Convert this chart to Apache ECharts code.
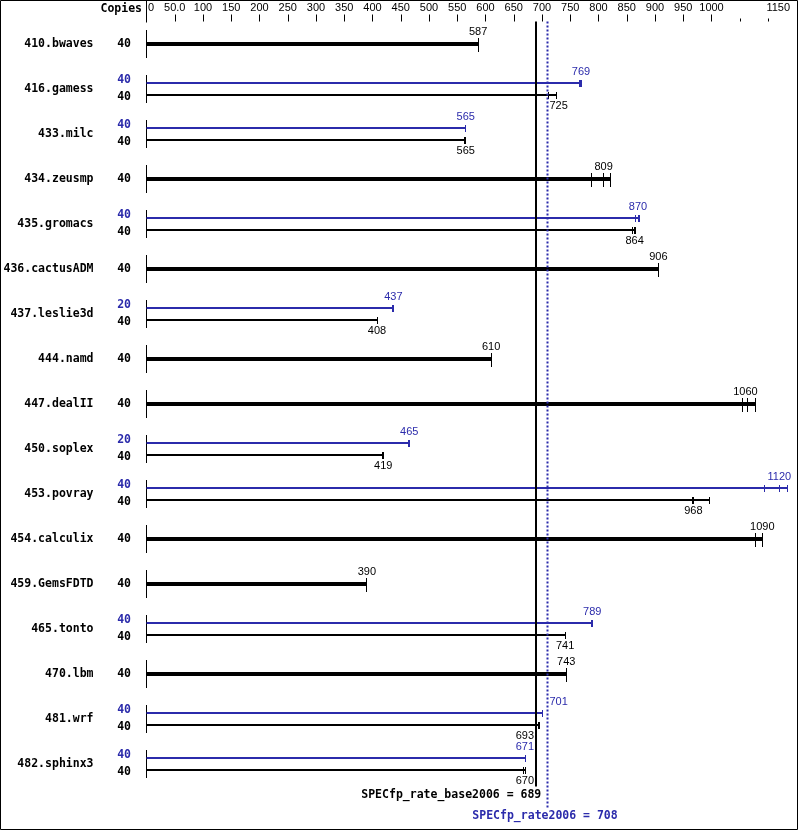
<!DOCTYPE html>
<html>
<head>
<meta charset="utf-8">
<script src="https://cdn.jsdelivr.net/npm/echarts@6/dist/echarts.min.js"></script>
<style>html,body{margin:0;padding:0;background:#fff}#c{width:799px;height:831px}</style>
</head>
<body>
<div id="c"></div>
<script>
const benchmarks = ['410.bwaves','416.gamess','433.milc','434.zeusmp','435.gromacs','436.cactusADM','437.leslie3d','444.namd','447.dealII','450.soplex','453.povray','454.calculix','459.GemsFDTD','465.tonto','470.lbm','481.wrf','482.sphinx3'];
const baseCopies = [40,40,40,40,40,40,40,40,40,40,40,40,40,40,40,40,40];
const peakCopies = [null,40,40,null,40,null,20,null,null,20,40,null,null,40,null,40,40];
const baseValues = [587,725,565,809,864,906,408,610,1060,419,968,1090,390,741,743,693,670];
const baseRuns = [[587],[712,725,726],[562,565],[787,809,822],[861,864,866],[906],[408],[610],[1054,1063,1078],[418,419],[966,968,997],[1078,1090,1091],[390],[741],[743],[690,693,695],[667,670,671]];
const peakValues = [null,769,565,null,870,null,437,null,null,465,1120,null,null,789,null,701,671];
const peakRuns = [null,[766,769,770],[565],null,[866,870,873],null,[435,437,438],null,null,[464,465],[1093,1120,1134],null,null,[788,789],null,[701],[671]];
const majorTicks = [0,50,100,150,200,250,300,350,400,450,500,550,600,650,700,750,800,850,900,950,1000];
const minorTicks = [1050,1100];
const tickLabels = [0,50,100,150,200,250,300,350,400,450,500,550,600,650,700,750,800,850,900,950,1000,1150];
const baseRate = 689;
const peakRate = 708;

const BLUE = '#2b2bab';
const MONO = 'bold 11.5px "DejaVu Sans Mono"';
const NUM = '11px "Liberation Sans"';

const snap = x => Math.floor(x) + 0.5;
const mctx = document.createElement('canvas').getContext('2d');
function textW(t) { mctx.font = NUM; return mctx.measureText(t).width; }

// place a value label centred on cx, nudged sideways if it would cross a reference line
function placeLabel(cx, w, obstacles) {
  const gap = 1;
  const hits = c => obstacles.some(o => c + w/2 > o[0] - gap && c - w/2 < o[1] + gap);
  if (!hits(cx)) return cx;
  let best = cx, bd = Infinity;
  obstacles.forEach(o => {
    [o[0] - gap - w/2, o[1] + gap + w/2].forEach(c => {
      if (!hits(c - 0.01 * Math.sign(c - cx)) || !hits(c)) {
        const d = Math.abs(c - cx);
        if (!hits(c + (c < cx ? -0.01 : 0.01)) && d < bd) { bd = d; best = c; }
      }
    });
  });
  return best;
}

function rowItem(params, api) {
  const i = params.dataIndex;
  const p0 = api.coord([0, i]);
  const x0 = p0[0], cy = p0[1];
  const px = v => api.coord([v, i])[0];
  const xb = Math.round(px(baseRate));
  const xp = Math.round(px(peakRate));
  const obstacles = [[xb - 1, xb + 1], [xp - 0.5, xp + 1.5]];
  const ch = [];
  ch.push({type:'line', shape:{x1:snap(x0), y1:cy-14, x2:snap(x0), y2:cy+14}, style:{stroke:'#000', lineWidth:1}});
  function bar(runs, value, color, bc, thick, labelDy) {
    const maxV = Math.max.apply(null, runs);
    const h = thick ? 4 : 2;
    ch.push({type:'rect', shape:{x:x0, y:bc-h/2, width:px(maxV)-x0, height:h}, style:{fill:color}});
    const wy1 = thick ? bc-6 : bc-3.5, wy2 = thick ? bc+8 : bc+3.5;
    runs.forEach(r => {
      const xr = snap(px(r));
      ch.push({type:'line', shape:{x1:xr, y1:Math.round(wy1), x2:xr, y2:Math.round(wy2)}, style:{stroke:color, lineWidth:1}});
    });
    const t = String(value);
    const lx = placeLabel(px(value), textW(t), obstacles);
    ch.push({type:'text', style:{text:t, x:lx, y:bc+labelDy, align:'center', verticalAlign:'middle', fill:color, font:NUM}});
  }
  function copies(n, color, y) {
    ch.push({type:'text', style:{text:String(n), x:x0-15.5, y:y, align:'right', verticalAlign:'middle', fill:color, font:MONO}});
  }
  if (peakValues[i] == null) {
    bar(baseRuns[i], baseValues[i], '#000', cy, true, -12);
    copies(baseCopies[i], '#000', cy);
  } else {
    bar(peakRuns[i], peakValues[i], BLUE, cy-6, false, -11.5);
    bar(baseRuns[i], baseValues[i], '#000', cy+6, false, 11);
    copies(peakCopies[i], BLUE, cy-9);
    copies(baseCopies[i], '#000', cy+8.5);
  }
  return {type:'group', children:ch};
}

function refItem(params, api) {
  const cs = params.coordSys;
  const x0 = api.coord([0, 0])[0];
  const xb = api.coord([baseRate, 0])[0];
  const xp = api.coord([peakRate, 0])[0];
  const ch = [];
  ch.push({type:'line', shape:{x1:snap(x0), y1:0, x2:snap(x0), y2:cs.y+1}, style:{stroke:'#000', lineWidth:1}});
  ch.push({type:'rect', shape:{x:Math.round(xb)-1, y:cs.y, width:2, height:cs.height}, style:{fill:'#000'}});
  ch.push({type:'line', shape:{x1:Math.round(xp)+0.5, y1:cs.y, x2:Math.round(xp)+0.5, y2:808}, style:{stroke:BLUE, lineWidth:2, lineDash:[2,2]}});
  ch.push({type:'text', style:{text:'SPECfp_rate_base2006 = ' + baseRate, x:xb+5.5, y:795, align:'right', verticalAlign:'middle', fill:'#000', font:MONO}});
  ch.push({type:'text', style:{text:'SPECfp_rate2006 = ' + peakRate, x:xp-1.5, y:816.5, align:'center', verticalAlign:'middle', fill:BLUE, font:MONO}});
  ch.push({type:'text', style:{text:'Copies', x:x0-4.5, y:9.5, align:'right', verticalAlign:'middle', fill:'#000', font:MONO}});
  return {type:'group', children:ch};
}

const chart = echarts.init(document.getElementById('c'), null, {renderer:'canvas'});
const axisBase = {type:'value', position:'top', min:0, max:1150, splitLine:{show:false}, axisLine:{show:false}};
chart.setOption({
  animation:false,
  backgroundColor:'#fff',
  grid:{left:146.5, right:2.75, top:21.5, bottom:44.5, containLabel:false},
  xAxis:[
    Object.assign({}, axisBase, {
      axisTick:{show:true, length:7, customValues:majorTicks, lineStyle:{color:'#000', width:1}},
      axisLabel:{show:true, margin:8, customValues:tickLabels, color:'#000', fontSize:11, fontFamily:'Liberation Sans',
        formatter: v => v === 0 ? '{a|0}' : (v === 1150 ? '{b|1150}' : (v === 50 ? '50.0' : String(v))),
        rich:{a:{padding:[0,0,0,9], fontSize:11, fontFamily:'Liberation Sans', color:'#000'},
              b:{padding:[0,36,0,0], fontSize:11, fontFamily:'Liberation Sans', color:'#000'}}}
    }),
    Object.assign({}, axisBase, {
      axisTick:{show:true, length:3, customValues:minorTicks, lineStyle:{color:'#000', width:1}},
      axisLabel:{show:false}
    })
  ],
  yAxis:{type:'category', inverse:true, data:benchmarks, axisLine:{show:false}, axisTick:{show:false}, splitLine:{show:false},
    axisLabel:{margin:53, color:'#000', fontFamily:'DejaVu Sans Mono', fontWeight:'bold', fontSize:11.5}},
  series:[
    {type:'custom', renderItem:rowItem, clip:false, silent:true, encode:{x:0, y:1},
     data: benchmarks.map((b, i) => [Math.max.apply(null, baseRuns[i]), i])},
    {type:'custom', renderItem:refItem, clip:false, silent:true, encode:{x:0, y:1}, data:[[baseRate, 0]]}
  ],
  graphic:[{type:'rect', shape:{x:0.5, y:0.5, width:797, height:829}, style:{fill:null, stroke:'#000', lineWidth:1}, silent:true, z:100}]
});
</script>
</body>
</html>
